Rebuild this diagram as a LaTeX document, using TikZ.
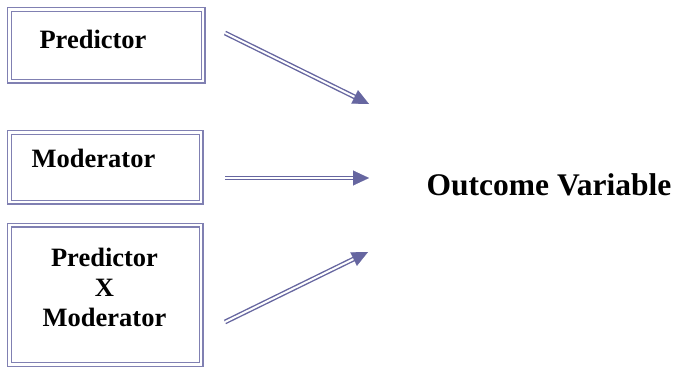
\documentclass[tikz,border=0pt]{standalone}
\usepackage{fontspec}
\setmainfont{Liberation Serif}[BoldFont={Liberation Serif Bold}]
\usetikzlibrary{arrows.meta,calc}
\definecolor{boxline}{RGB}{128,128,178}
\definecolor{arrowline}{RGB}{102,102,160}
\begin{document}
\begin{tikzpicture}[x=1pt,y=-1pt,
  dbox/.style={rectangle, draw=boxline, double=white, line width=1.3pt,
    double distance=2.4pt, inner sep=0pt},
  lbl/.style={font=\bfseries\fontsize{26.5}{30}\selectfont, inner sep=0pt, align=center},
  biglbl/.style={font=\bfseries\fontsize{31.5}{36}\selectfont, inner sep=0pt},
  shaft/.style={draw=arrowline, double=white, line width=1.4pt,
    double distance=2pt, shorten >=13pt},
  head/.style={draw=arrowline, line width=0.1pt,
    -{Triangle[length=16pt,width=15pt]}}
]
\useasboundingbox (0,0) rectangle (677,372);

% framed boxes on the left
\node[dbox, minimum width=193.5pt, minimum height=71.5pt] (pbox) at (106.25,45.25) {};
\node[dbox, minimum width=191.5pt, minimum height=69.5pt] (mbox) at (105.25,167.25) {};
\node[dbox, minimum width=191.5pt, minimum height=139.5pt] (ibox) at (105.25,294.75) {};

% box captions
\node[lbl, anchor=base] (ptext) at (93,48) {Predictor};
\node[lbl, anchor=base] (mtext) at (93.5,167) {Moderator};
\node[lbl] (itext) at (104.5,287) {Predictor\\X\\Moderator};

% outcome
\node[biglbl, anchor=base] (out) at (549,195) {Outcome Variable};

% arrow end points
\coordinate (s1) at (225,33);  \coordinate (e1) at (369,104);
\coordinate (s2) at (225,178); \coordinate (e2) at (369,178);
\coordinate (s3) at (225,322); \coordinate (e3) at (368,252);

% double-line arrows
\foreach \i in {1,2,3}{
  \draw[shaft] (s\i) -- (e\i);
  \draw[head] ($(e\i)!16pt!(s\i)$) -- (e\i);
}
\end{tikzpicture}
\end{document}
